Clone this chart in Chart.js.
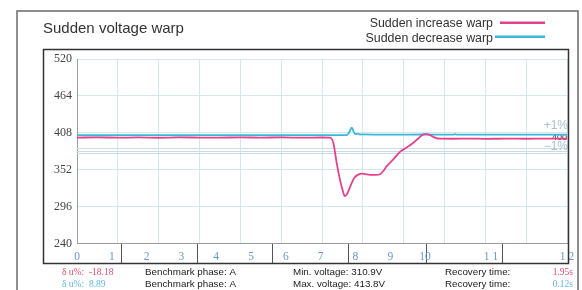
<!DOCTYPE html>
<html>
<head>
<meta charset="utf-8">
<script src="https://cdn.jsdelivr.net/npm/chart.js@4/dist/chart.umd.min.js"></script>
<style>
  html, body { margin: 0; padding: 0; background: #fff; }
  #wrap { width: 582px; height: 290px; position: relative; }
</style>
</head>
<body>
<div id="wrap"><canvas id="c"></canvas></div>
<script>
// ---- data ----
const chartTitle = 'Sudden voltage warp';
const seriesNames = ['Sudden increase warp', 'Sudden decrease warp'];

const pinkTimes = [0, 0.5, 1, 1.5, 2, 2.5, 3, 3.5, 4, 4.5, 5, 5.5, 6, 6.2, 6.28, 6.36, 6.44, 6.5, 6.56, 6.62, 6.69, 6.75, 6.81, 6.9, 6.97, 7.1, 7.21, 7.32, 7.42, 7.5, 7.58, 7.75, 7.91, 8.08, 8.24, 8.35, 8.44, 8.52, 8.6, 8.72, 8.8, 8.89, 9.2, 9.6, 10, 10.5, 11, 11.5, 12];
const pinkValues = [400.7, 401.1, 400.6, 401.0, 400.5, 401.0, 400.8, 400.6, 401.1, 400.7, 401.0, 400.6, 400.9, 400.7, 392, 362, 337, 322, 312, 316, 326, 335, 341, 345, 346, 345, 344, 344, 345, 350, 357, 368, 379, 386, 393, 399, 404, 406, 405.5, 402, 400, 399.2, 399, 399.3, 398.9, 399.1, 399, 399.2, 399];

const blueTimes = [0, 0.5, 1, 1.5, 2, 2.5, 3, 3.5, 4, 4.5, 5, 5.5, 6, 6.6, 6.66, 6.73, 6.78, 6.82, 6.87, 6.93, 7.0, 7.5, 8, 8.5, 9, 9.22, 9.26, 9.3, 9.5, 10, 10.5, 11, 11.5, 12];
const blueValues = [404.5, 404.3, 404.6, 404.4, 404.5, 404.3, 404.5, 404.6, 404.4, 404.5, 404.3, 404.5, 404.4, 404.5, 408, 416, 409, 406, 406.8, 405.4, 405.6, 405.1, 405.2, 405.4, 405.1, 405.2, 406, 405.2, 405.1, 405.3, 405.2, 405.3, 405.1, 405.2];

const yTicks = [240, 296, 352, 408, 464, 520];
const xTickPositions = [0, 0.852, 1.705, 2.557, 3.41, 4.262, 5.115, 5.967, 6.82, 7.672, 8.525, 10.14, 12];
const xTickLabels = ['0', '1', '2', '3', '4', '5', '6', '7', '8', '9', '10', '1 1', '1 2'];
const dividerPositions = [1.08, 2.94, 4.78, 6.66, 8.55, 10.41];
const refLineValues = [385.3, 380.8, 377.7];
const nominalVoltage = 400;

const deltaU = ['-18.18', '8.89'];
const benchmarkPhase = ['A', 'A'];
const extremeNames = ['Min. voltage', 'Max. voltage'];
const extremeValues = ['310.9', '413.8'];
const recoveryTimes = ['1.95', '0.12'];

// ---- styles ----
const PINK = '#e2438c';
const BLUE = '#3cb6da';
const PINK_TXT = '#e0506f';
const BLUE_TXT = '#62b6e0';
const GRID = '#d3e9f0';

const toPts = (ts, vs) => ts.map((t, i) => ({ x: t, y: vs[i] }));

const decor = {
  id: 'decor',
  beforeDraw(chart) {
    const c = chart.ctx;
    c.save();
    c.fillStyle = '#fff';
    c.fillRect(0, 0, chart.width, chart.height);
    c.restore();
  },
  beforeDatasetsDraw(chart) {
    const c = chart.ctx, a = chart.chartArea, y = chart.scales.y;
    c.save();
    c.strokeStyle = '#c9dbe9';
    c.lineWidth = 1;
    refLineValues.forEach(v => {
      const py = Math.round(y.getPixelForValue(v)) + 0.5;
      c.beginPath(); c.moveTo(a.left, py); c.lineTo(a.right, py); c.stroke();
    });
    // right side labels
    const py0 = y.getPixelForValue(nominalVoltage + 1.5);
    c.textAlign = 'right';
    c.textBaseline = 'middle';
    c.font = '9px "Liberation Sans"';
    c.fillStyle = '#333';
    c.fillText(String(nominalVoltage), a.right, py0);
    c.font = '12px "Liberation Sans"';
    c.fillStyle = '#a9bfd0';
    c.fillText('+1%', a.right + 1, py0 - 11);
    c.fillText('\u22121%', a.right + 1, py0 + 10);
    c.restore();
  },
  afterDraw(chart) {
    const c = chart.ctx;
    c.save();
    // outer frame
    c.strokeStyle = '#6a6a6a';
    c.lineWidth = 1.5;
    c.beginPath();
    c.moveTo(17, 300); c.lineTo(17, 11); c.lineTo(578, 11); c.lineTo(578, 300);
    c.stroke();
    // inner box
    c.strokeStyle = '#333';
    c.lineWidth = 1.5;
    c.strokeRect(43.5, 49.5, 525, 214);
    // title
    c.fillStyle = '#333';
    c.font = '15px "Liberation Sans"';
    c.textAlign = 'left';
    c.textBaseline = 'alphabetic';
    c.fillText(chartTitle, 43, 33);
    // legend
    c.font = '12.4px "Liberation Sans"';
    c.textAlign = 'right';
    const ds = chart.data.datasets;
    const rows = [{ base: 27.2, ly: 22.7, lx: 500 }, { base: 42.2, ly: 36.7, lx: 495 }];
    rows.forEach((r, i) => {
      c.fillStyle = '#333';
      c.fillText(ds[i].label, 493, r.base);
      c.strokeStyle = ds[i].borderColor;
      c.lineWidth = 2.6;
      c.beginPath(); c.moveTo(r.lx, r.ly); c.lineTo(545, r.ly); c.stroke();
    });
    // stats rows
    const rowY = [272, 284];
    const numCols = [PINK_TXT, BLUE_TXT];
    c.textBaseline = 'middle';
    for (let i = 0; i < 2; i++) {
      c.textAlign = 'left';
      c.font = '9.5px "Liberation Serif"';
      c.fillStyle = numCols[i];
      c.fillText('\u03b4 u%:  ' + deltaU[i], 62, rowY[i]);
      c.font = '9.8px "Liberation Sans"';
      c.fillStyle = '#222';
      c.fillText('Benchmark phase: ' + benchmarkPhase[i], 145, rowY[i]);
      c.fillText(extremeNames[i] + ': ' + extremeValues[i] + 'V', 293, rowY[i]);
      c.fillText('Recovery time:', 445, rowY[i]);
      c.textAlign = 'right';
      c.font = '9.5px "Liberation Serif"';
      c.fillStyle = numCols[i];
      c.fillText(recoveryTimes[i] + 's', 573, rowY[i]);
    }
    c.restore();
  }
};

new Chart(document.getElementById('c'), {
  type: 'line',
  data: {
    datasets: [
      { label: seriesNames[0], data: toPts(pinkTimes, pinkValues), borderColor: PINK, borderWidth: 1.8, pointRadius: 0, cubicInterpolationMode: 'monotone', fill: false },
      { label: seriesNames[1], data: toPts(blueTimes, blueValues), borderColor: BLUE, borderWidth: 1.8, pointRadius: 0, cubicInterpolationMode: 'monotone', fill: false }
    ]
  },
  options: {
    responsive: true,
    maintainAspectRatio: false,
    animation: false,
    events: [],
    layout: { padding: { top: 59, left: 43, right: 15, bottom: 27 } },
    plugins: { legend: { display: false }, title: { display: false }, tooltip: { enabled: false } },
    scales: {
      x: {
        type: 'linear', min: 0, max: 12, position: 'bottom',
        afterBuildTicks(axis) {
          const t = [];
          for (let v = 0; v <= 12; v++) t.push({ value: v, kind: 'grid' });
          dividerPositions.forEach(v => t.push({ value: v, kind: 'div' }));
          xTickPositions.forEach((v, i) => t.push({ value: v, kind: 'label', text: xTickLabels[i] }));
          axis.ticks = t;
        },
        ticks: {
          autoSkip: false, maxRotation: 0, minRotation: 0, padding: -13,
          color: '#6a98cc',
          font: { family: '"Liberation Serif"', size: 11.5 },
          callback: (v, i, ticks) => (ticks[i] && ticks[i].kind === 'label') ? ticks[i].text : ''
        },
        grid: {
          color: ctx => (ctx.tick && ctx.tick.kind === 'grid') ? GRID : 'rgba(0,0,0,0)',
          tickColor: ctx => (ctx.tick && ctx.tick.kind === 'div') ? '#555' : 'rgba(0,0,0,0)',
          tickLength: 20, lineWidth: 1, drawTicks: true
        },
        border: { color: '#9a9a9a', width: 1 },
        afterFit(axis) { axis.height = 19.5; }
      },
      y: {
        type: 'linear', min: 240, max: 520,
        afterBuildTicks(axis) { axis.ticks = yTicks.map(v => ({ value: v })); },
        ticks: { color: '#444', font: { family: '"Liberation Serif"', size: 12 }, padding: 5 },
        grid: { color: GRID, drawTicks: false, lineWidth: 1 },
        border: { color: '#9aa29a', width: 1 },
        afterFit(axis) { axis.width = 34; }
      }
    }
  },
  plugins: [decor]
});
</script>
</body>
</html>
